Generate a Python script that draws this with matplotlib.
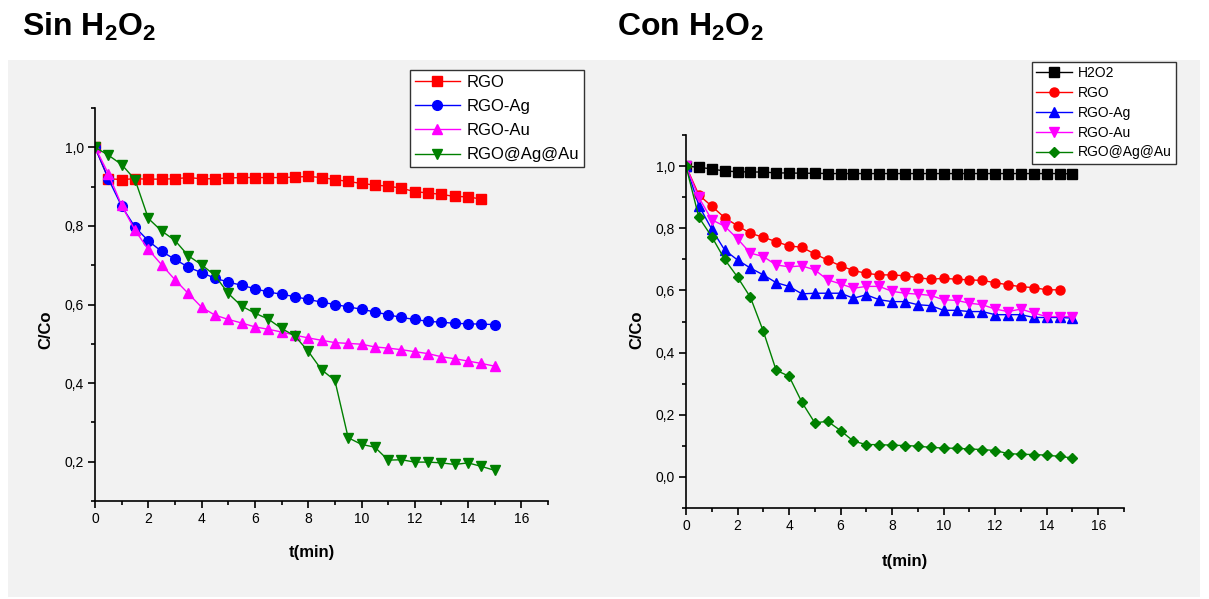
import numpy as np
import matplotlib
matplotlib.use("Agg")
import matplotlib.pyplot as plt
from matplotlib.patches import Rectangle
from matplotlib.ticker import MultipleLocator, FuncFormatter

plt.rcParams["font.family"] = ["Liberation Sans", "DejaVu Sans"]
plt.rcParams["mathtext.fontset"] = "custom"
plt.rcParams["mathtext.bf"] = "Liberation Sans:bold"
plt.rcParams["mathtext.rm"] = "Liberation Sans"

# Time axis (min)
t_full = np.arange(0, 15.01, 0.5)
t_short = np.arange(0, 14.51, 0.5)

# Without H2O2
sin_rgo = [1.0, 0.92, 0.918, 0.92, 0.919, 0.919, 0.92, 0.923, 0.92, 0.92,
           0.922, 0.923, 0.923, 0.923, 0.923, 0.924, 0.926, 0.923, 0.918, 0.913,
           0.908, 0.904, 0.901, 0.896, 0.887, 0.884, 0.880, 0.875, 0.874, 0.868]
sin_ag = [1.0, 0.92, 0.85, 0.797, 0.762, 0.735, 0.715, 0.695, 0.681, 0.667,
          0.657, 0.649, 0.640, 0.632, 0.626, 0.620, 0.613, 0.606, 0.600, 0.594,
          0.588, 0.581, 0.574, 0.567, 0.562, 0.557, 0.555, 0.552, 0.551, 0.550, 0.549]
sin_au = [1.0, 0.933, 0.852, 0.789, 0.740, 0.701, 0.663, 0.628, 0.593, 0.573,
          0.562, 0.553, 0.543, 0.537, 0.530, 0.522, 0.515, 0.509, 0.503, 0.501,
          0.499, 0.492, 0.489, 0.485, 0.480, 0.475, 0.467, 0.462, 0.456, 0.450, 0.443]
sin_agau = [1.0, 0.980, 0.956, 0.918, 0.819, 0.787, 0.763, 0.724, 0.701, 0.674,
            0.628, 0.596, 0.578, 0.563, 0.539, 0.520, 0.481, 0.434, 0.407, 0.261,
            0.244, 0.237, 0.204, 0.205, 0.199, 0.199, 0.197, 0.193, 0.197, 0.188, 0.178]

# With H2O2
con_h2o2 = [1.0, 0.996, 0.991, 0.984, 0.982, 0.981, 0.981, 0.978, 0.978, 0.977,
            0.977, 0.976, 0.976, 0.976, 0.976, 0.976, 0.976, 0.976, 0.976, 0.976,
            0.976, 0.976, 0.976, 0.976, 0.976, 0.976, 0.976, 0.976, 0.976, 0.976, 0.975]
con_rgo = [1.0, 0.907, 0.871, 0.834, 0.808, 0.784, 0.771, 0.757, 0.743, 0.739,
           0.717, 0.698, 0.679, 0.664, 0.655, 0.650, 0.650, 0.647, 0.641, 0.636,
           0.639, 0.636, 0.634, 0.632, 0.625, 0.618, 0.612, 0.609, 0.602, 0.602]
con_ag = [1.0, 0.873, 0.797, 0.730, 0.698, 0.672, 0.650, 0.625, 0.613, 0.589,
          0.591, 0.591, 0.591, 0.575, 0.586, 0.570, 0.564, 0.564, 0.554, 0.551,
          0.536, 0.536, 0.532, 0.532, 0.522, 0.522, 0.522, 0.513, 0.513, 0.513, 0.511]
con_au = [1.0, 0.899, 0.827, 0.807, 0.766, 0.720, 0.709, 0.682, 0.676, 0.679,
          0.666, 0.634, 0.621, 0.607, 0.613, 0.613, 0.597, 0.591, 0.588, 0.584,
          0.570, 0.568, 0.559, 0.554, 0.540, 0.532, 0.540, 0.527, 0.516, 0.516, 0.516]
con_agau = [1.0, 0.835, 0.773, 0.700, 0.643, 0.578, 0.469, 0.343, 0.324, 0.240,
            0.174, 0.179, 0.149, 0.115, 0.104, 0.104, 0.102, 0.101, 0.099, 0.095,
            0.093, 0.092, 0.090, 0.088, 0.085, 0.075, 0.073, 0.072, 0.070, 0.066, 0.061]

BG = "#f2f2f2"

fig = plt.figure(figsize=(12.09, 5.99), dpi=100, facecolor="white")
fig.patches.append(Rectangle((0.0066, 0.003), 0.986, 0.897, transform=fig.transFigure,
                             facecolor=BG, edgecolor="none", zorder=-10))

ax1 = fig.add_axes([0.0786, 0.1636, 0.3747, 0.6561])
ax2 = fig.add_axes([0.5674, 0.1519, 0.3623, 0.6227])

comma = FuncFormatter(lambda v, p: f"{v:.1f}".replace(".", ","))


def style_axes(ax, ymin, ymax, yticks):
    ax.set_facecolor(BG)
    ax.set_xlim(0, 17)
    ax.set_ylim(ymin, ymax)
    for side in ["top", "right"]:
        ax.spines[side].set_visible(False)
    for side in ["left", "bottom"]:
        ax.spines[side].set_linewidth(1.2)
    ax.xaxis.set_major_locator(MultipleLocator(2))
    ax.xaxis.set_minor_locator(MultipleLocator(1))
    ax.set_yticks(yticks)
    ax.yaxis.set_minor_locator(MultipleLocator(0.1))
    ax.yaxis.set_major_formatter(comma)
    ax.tick_params(which="major", length=5, width=1.2, labelsize=10, pad=3)
    ax.tick_params(which="minor", length=3, width=1.2)


def add_legend(ax, anchor, size, spacing, hlen):
    leg = ax.legend(loc="upper left", bbox_to_anchor=anchor, fontsize=size,
                    frameon=True, fancybox=False, framealpha=1, edgecolor="#333333",
                    borderpad=0.3, labelspacing=spacing, handlelength=hlen,
                    handletextpad=0.4, borderaxespad=0)
    leg.get_frame().set_linewidth(1.0)
    return leg


# Left panel: without H2O2
ms = 7
ax1.plot(t_short, sin_rgo, color="red", marker="s", ms=ms, lw=1, label="RGO")
ax1.plot(t_full, sin_ag, color="blue", marker="o", ms=ms, lw=1, label="RGO-Ag")
ax1.plot(t_full, sin_au, color="magenta", marker="^", ms=ms, lw=1, label="RGO-Au")
ax1.plot(t_full, sin_agau, color="green", marker="v", ms=ms, lw=1, label="RGO@Ag@Au")
style_axes(ax1, 0.1, 1.1, [0.2, 0.4, 0.6, 0.8, 1.0])
ax1.set_xlabel("t(min)", fontsize=12, fontweight="bold")
ax1.set_ylabel("C/Co", fontsize=12, fontweight="bold")
ax1.xaxis.set_label_coords(0.479, -0.112)
ax1.yaxis.set_label_coords(-0.092, 0.435)
add_legend(ax1, (0.695, 1.097), 12, 0.55, 2.7)

# Right panel: with H2O2
ms2 = 6.5
ax2.plot(t_full, con_h2o2, color="black", marker="s", ms=ms2, lw=1, label="H2O2")
ax2.plot(t_short, con_rgo, color="red", marker="o", ms=ms2, lw=1, label="RGO")
ax2.plot(t_full, con_ag, color="blue", marker="^", ms=ms2, lw=1, label="RGO-Ag")
ax2.plot(t_full, con_au, color="magenta", marker="v", ms=ms2, lw=1, label="RGO-Au")
ax2.plot(t_full, con_agau, color="green", marker="D", ms=ms2 - 1, lw=1, label="RGO@Ag@Au")
style_axes(ax2, -0.1, 1.1, [0.0, 0.2, 0.4, 0.6, 0.8, 1.0])
ax2.set_xlabel("t(min)", fontsize=12, fontweight="bold")
ax2.set_ylabel("C/Co", fontsize=12, fontweight="bold")
ax2.xaxis.set_label_coords(0.5, -0.122)
ax2.yaxis.set_label_coords(-0.094, 0.477)
add_legend(ax2, (0.79, 1.196), 10, 0.42, 2.6)

# Panel titles
fig.text(0.018, 0.955, r"Sin H$_\mathbf{2}$O$_\mathbf{2}$", fontsize=23,
         fontweight="bold", va="center", ha="left")
fig.text(0.510, 0.955, r"Con H$_\mathbf{2}$O$_\mathbf{2}$", fontsize=23,
         fontweight="bold", va="center", ha="left")

fig.savefig("out.png", dpi=100, facecolor="white")
